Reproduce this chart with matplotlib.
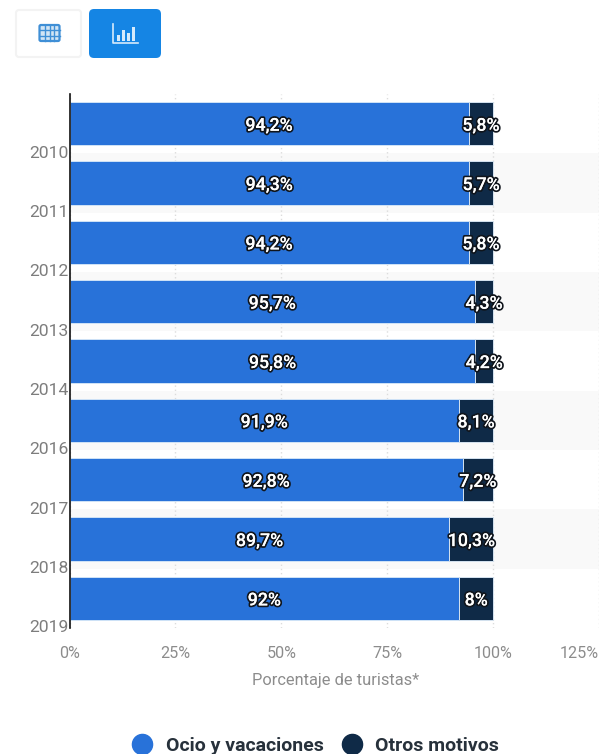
import matplotlib
matplotlib.use("Agg")
import matplotlib.pyplot as plt
import matplotlib.patheffects as pe
from matplotlib.lines import Line2D
from matplotlib.patches import FancyBboxPatch, Rectangle

plt.rcParams['font.family'] = ['Roboto', 'DejaVu Sans']

years = ['2010', '2011', '2012', '2013', '2014', '2016', '2017', '2018', '2019']
ocio = [94.2, 94.3, 94.2, 95.7, 95.8, 91.9, 92.8, 89.7, 92]
otros = [5.8, 5.7, 5.8, 4.3, 4.2, 8.1, 7.2, 10.3, 8]
x_ticks = [0, 25, 50, 75, 100, 125]

BLUE = '#2872d9'
NAVY = '#0f2a47'
W, H = 600, 754


def fx(px):
    return px / W


def fy(py):
    return 1 - py / H


fig = plt.figure(figsize=(6, 7.54), dpi=100, facecolor='white')
ax = fig.add_axes([fx(69.5), fy(628), fx(599 - 69.5), (628 - 94) / H])

positions = list(range(len(years)))

# Alternating row shading behind the bars
for i in positions:
    if i % 2 == 1:
        ax.axhspan(i - 0.5, i + 0.5, color='#f9f9f9', lw=0, zorder=0)

ax.set_axisbelow(True)
ax.xaxis.grid(True, color='#dcdcdc', linestyle=(0, (1, 2)), linewidth=1)
ax.yaxis.grid(False)

ax.barh(positions, ocio, height=0.73, color=BLUE, edgecolor='#cfe3f7',
        linewidth=0.7, zorder=2, label='Ocio y vacaciones')
ax.barh(positions, otros, left=ocio, height=0.73, color=NAVY, edgecolor='#d5e3f0',
        linewidth=0.7, zorder=2, label='Otros motivos')


def percent(v):
    return f'{v:g}'.replace('.', ',') + '%'


for i in positions:
    for start, val in ((0, ocio[i]), (ocio[i], otros[i])):
        t = ax.text(start + val / 2, i + 0.035, percent(val), ha='center', va='center',
                    color='white', fontsize=12.8, fontweight='medium', zorder=4)
        t.set_path_effects([pe.withStroke(linewidth=2.6, foreground='#10151c'), pe.Normal()])

ax.set_xlim(0, 125)
ax.set_ylim(len(years) - 0.5, -0.5)

ax.set_xticks(x_ticks)
ax.set_xticklabels([f'{v}%' for v in x_ticks])
ax.get_xticklabels()[-1].set_ha('right')
ax.tick_params(axis='x', length=0, pad=13, labelsize=11.6, labelcolor='#8c8c8c')

# Year labels sit at the lower edge of their row
ax.set_yticks([p + 0.47 for p in positions])
ax.set_yticklabels(years)
ax.tick_params(axis='y', length=0, pad=0.5, labelsize=12.6, labelcolor='#7d7d7d')

for side in ('top', 'right', 'bottom'):
    ax.spines[side].set_visible(False)
ax.spines['left'].set_color('#111111')
ax.spines['left'].set_linewidth(1.2)
ax.spines['left'].set_zorder(5)

fig.text(fx(336), fy(680), 'Porcentaje de turistas*', ha='center', va='center',
         fontsize=11.8, color='#8c8c8c')

handles = [Line2D([], [], linestyle='none', marker='o', markersize=14.5, color=BLUE),
           Line2D([], [], linestyle='none', marker='o', markersize=14.5, color=NAVY)]
fig.legend(handles, ['Ocio y vacaciones', 'Otros motivos'], ncol=2, frameon=False,
           loc='center', bbox_to_anchor=(fx(313), fy(746)),
           prop={'size': 14, 'weight': 'bold'}, labelcolor='#27313b',
           handletextpad=0.4, columnspacing=0.65, handlelength=1.6, borderpad=0)

# View switch buttons above the chart
overlay = fig.add_axes([0, 0, 1, 1], facecolor='none')
overlay.set_xlim(0, W)
overlay.set_ylim(H, 0)
overlay.axis('off')

overlay.add_patch(FancyBboxPatch((16, 10), 65, 47, boxstyle='round,pad=0,rounding_size=3',
                                 fc='white', ec='#f3f3f3', lw=1.5))
overlay.add_patch(FancyBboxPatch((89, 9), 72, 49, boxstyle='round,pad=0,rounding_size=5',
                                 fc='#1585e4', ec='none'))

# Table glyph
ICON = '#3f8fd6'
overlay.add_patch(FancyBboxPatch((39.5, 25), 20, 16, boxstyle='round,pad=0,rounding_size=1.5',
                                 fc='#d2e5f5', ec=ICON, lw=1.6))
for gx in (44.7, 49.5, 54.4):
    overlay.plot([gx, gx], [25, 41], color=ICON, lw=1)
for gy in (30.3, 35.6):
    overlay.plot([39.5, 59.5], [gy, gy], color=ICON, lw=1)

# Bar chart glyph
GLYPH = '#d6eafb'
overlay.plot([113, 113, 138], [24, 43, 43], color=GLYPH, lw=1.2)
for bx, top in ((118, 35), (123, 30), (128, 33), (133, 27)):
    overlay.add_patch(Rectangle((bx - 1.5, top), 3, 41 - top, fc=GLYPH, ec='none'))

fig.savefig('out.png', dpi=100, facecolor='white')
